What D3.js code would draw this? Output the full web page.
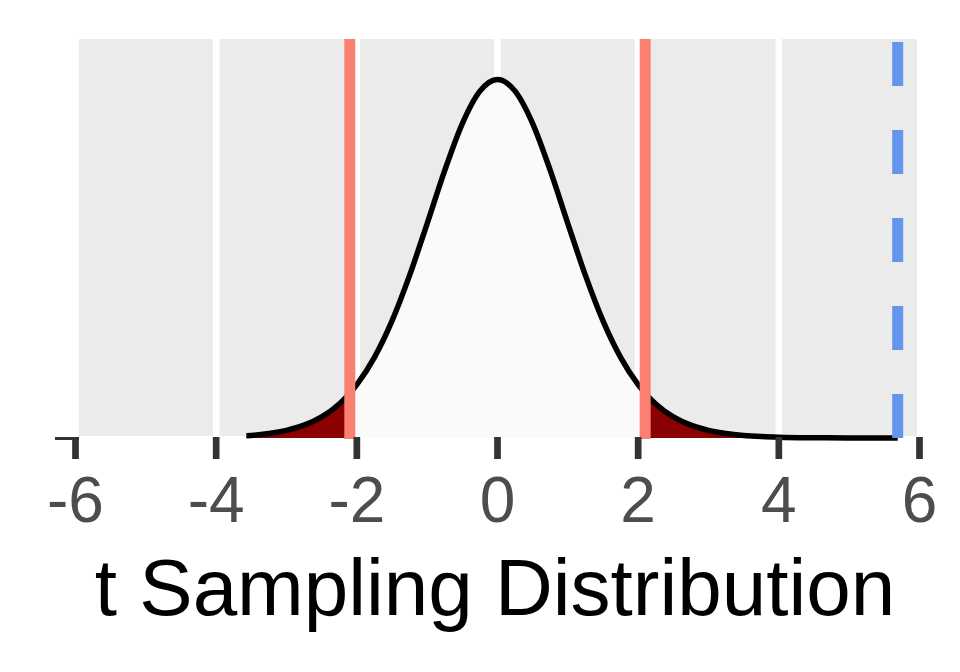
<!DOCTYPE html>
<meta charset="utf-8">
<style>
  body { margin: 0; background: #fff; }
  text { font-family: "Liberation Sans", Arial, sans-serif; }
</style>
<svg width="960" height="672"></svg>
<script src="https://d3js.org/d3.v7.min.js"></script>
<script>
// t values where the curve was read, and the density height read at each
var tValues = [-3.57, -3.5, -3.25, -3, -2.75, -2.5, -2.25, -2.1, -2, -1.75, -1.5, -1.25, -1, -0.75, -0.5, -0.25,
  0, 0.25, 0.5, 0.75, 1, 1.25, 1.5, 1.75, 2, 2.1, 2.25, 2.5, 2.75, 3, 3.25, 3.5, 3.75, 4, 4.5, 5, 5.5, 5.69]
var density = [0.0026, 0.0028, 0.0049, 0.0084, 0.0141, 0.0232, 0.0374, 0.0491, 0.0586, 0.0886, 0.1287, 0.1787, 0.2357, 0.2941, 0.3456, 0.3812,
  0.3940, 0.3812, 0.3456, 0.2941, 0.2357, 0.1787, 0.1287, 0.0886, 0.0586, 0.0491, 0.0374, 0.0232, 0.0141, 0.0084, 0.0049, 0.0028, 0.0016, 0.0009, 0.0003, 0.0001, 0.00003, 0.00002]

var critical = [-2.1, 2.1]
var observedT = 5.69
var xTicks = [-6, -4, -2, 0, 2, 4, 6]
var xLabel = 't Sampling Distribution'

var points = tValues.map((t, i) => ({ t: t, d: density[i] }))

const svg = d3.select('svg')

const x = d3.scaleLinear().domain([-6, 6]).range([75.5, 919.5])
const y = d3.scaleLinear().domain([0, 0.394]).range([438, 79.5])

const panel = { left: 79, right: 917, top: 39, bottom: 436 }

svg.append('rect')
  .attr('x', panel.left).attr('y', panel.top)
  .attr('width', panel.right - panel.left).attr('height', panel.bottom - panel.top)
  .attr('fill', '#ebebeb')

svg.append('g')
  .selectAll('line')
  .data(xTicks.filter(d => x(d) > panel.left && x(d) < panel.right))
  .enter().append('line')
  .attr('x1', d => x(d)).attr('x2', d => x(d))
  .attr('y1', panel.top).attr('y2', panel.bottom)
  .attr('stroke', '#fff')
  .attr('stroke-width', 6.7)

const area = d3.area()
  .x(p => x(p.t))
  .y0(y(0))
  .y1(p => y(p.d))
  .curve(d3.curveMonotoneX)

const line = d3.line()
  .x(p => x(p.t))
  .y(p => y(p.d))
  .curve(d3.curveMonotoneX)

// clip regions for tails and centre
const defs = svg.append('defs')
function addClip(id, a, b) {
  defs.append('clipPath').attr('id', id)
    .append('rect')
    .attr('x', x(a)).attr('y', 0)
    .attr('width', x(b) - x(a)).attr('height', 672)
}
addClip('left-tail', -6, critical[0])
addClip('middle', critical[0], critical[1])
addClip('right-tail', critical[1], 6)

svg.append('path').datum(points)
  .attr('d', area).attr('fill', '#fafafa')
  .attr('clip-path', 'url(#middle)')
svg.append('path').datum(points)
  .attr('d', area).attr('fill', '#8b0000')
  .attr('clip-path', 'url(#left-tail)')
svg.append('path').datum(points)
  .attr('d', area).attr('fill', '#8b0000')
  .attr('clip-path', 'url(#right-tail)')

svg.append('path').datum(points)
  .attr('d', line)
  .attr('fill', 'none')
  .attr('stroke', '#000')
  .attr('stroke-width', 5.5)

svg.append('g')
  .selectAll('line')
  .data(critical)
  .enter().append('line')
  .attr('x1', d => x(d)).attr('x2', d => x(d))
  .attr('y1', panel.top).attr('y2', 439)
  .attr('stroke', '#fa8072')
  .attr('stroke-width', 11)

svg.append('line')
  .attr('x1', x(observedT)).attr('x2', x(observedT))
  .attr('y1', 438).attr('y2', panel.top)
  .attr('stroke', '#6495ed')
  .attr('stroke-width', 11)
  .attr('stroke-dasharray', '44,44')

// axis ticks
svg.append('rect')
  .attr('x', 55).attr('y', 437).attr('width', 24).attr('height', 3)
  .attr('fill', '#333')

const axis = svg.append('g')
axis.selectAll('line')
  .data(xTicks)
  .enter().append('line')
  .attr('x1', d => x(d)).attr('x2', d => x(d))
  .attr('y1', 437).attr('y2', 459)
  .attr('stroke', '#333')
  .attr('stroke-width', 6.7)

axis.selectAll('text')
  .data(xTicks)
  .enter().append('text')
  .attr('x', d => x(d))
  .attr('y', 522)
  .attr('text-anchor', 'middle')
  .attr('font-size', 64)
  .attr('fill', '#4d4d4d')
  .text(d => d)

svg.append('text')
  .attr('x', 495)
  .attr('y', 615)
  .attr('text-anchor', 'middle')
  .attr('font-size', 80)
  .attr('fill', '#000')
  .text(xLabel)
</script>
